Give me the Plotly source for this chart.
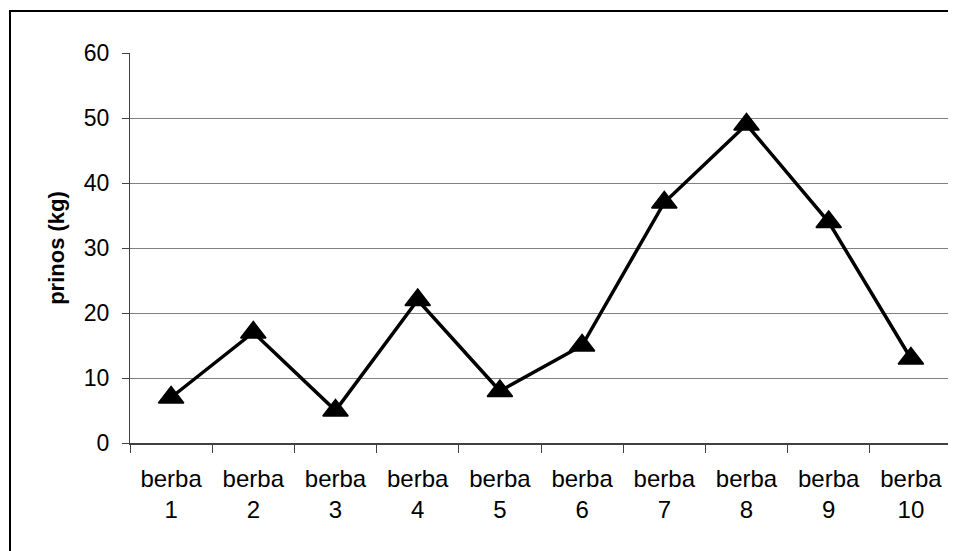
import plotly.graph_objects as go

categories = ["berba<br>1", "berba<br>2", "berba<br>3", "berba<br>4", "berba<br>5",
              "berba<br>6", "berba<br>7", "berba<br>8", "berba<br>9", "berba<br>10"]
prinos = [7, 17, 5, 22, 8, 15, 37, 49, 34, 13]
y_ticks = [0, 10, 20, 30, 40, 50, 60]
y_title = "prinos (kg)"

FONT = "Liberation Sans, Arial, sans-serif"

fig = go.Figure()
fig.add_trace(go.Scatter(
    x=categories, y=prinos, mode="lines+markers",
    line=dict(color="black", width=3.5),
    marker=dict(symbol="triangle-up", size=22, color="black",
                line=dict(color="black", width=1.5)),
    cliponaxis=False, showlegend=False,
))

# page body has an 8px margin, so the figure is drawn from (8, 8)
OFF = 8
W, H = 956 - OFF, 551 - OFF
L, R, T, B = 130 - OFF, 4, 53 - OFF, 551 - 443
pw, ph = W - L - R, H - T - B

fig.update_layout(
    width=W, height=H,
    margin=dict(l=L, r=R, t=T, b=B),
    paper_bgcolor="white", plot_bgcolor="white",
    font=dict(family=FONT, color="black", size=23),
    xaxis=dict(
        type="category", tickson="boundaries",
        ticks="outside", ticklen=8, tickcolor="#404040", tickwidth=1,
        showline=True, linecolor="#404040", linewidth=2,
        showgrid=False, tickfont=dict(size=24, family=FONT),
        ticklabelstandoff=13,
        range=[-0.5, 9.5], fixedrange=True,
    ),
    yaxis=dict(
        range=[0, 60], tickvals=y_ticks,
        ticks="outside", ticklen=7, tickcolor="#404040", tickwidth=1,
        showline=True, linecolor="#404040", linewidth=1,
        showgrid=True, gridcolor="#808080", gridwidth=1,
        zeroline=False, tickfont=dict(size=23, family=FONT),
        ticklabelstandoff=8,
        title=dict(text="<b>" + y_title + "</b>", font=dict(size=22, family=FONT), standoff=13),
    ),
)

# right border of plot area
fig.add_shape(type="line", xref="paper", yref="paper", x0=1, x1=1, y0=0, y1=1,
              line=dict(color="#808080", width=1))
# outer chart frame
fig.add_shape(type="rect", xref="paper", yref="paper",
              x0=(10 - OFF - L) / pw, x1=(W + 20 - L) / pw,
              y0=-(B + 20) / ph, y1=1 + (T - (11 - OFF)) / ph,
              line=dict(color="black", width=2), layer="below")

fig.write_html("out.html")
